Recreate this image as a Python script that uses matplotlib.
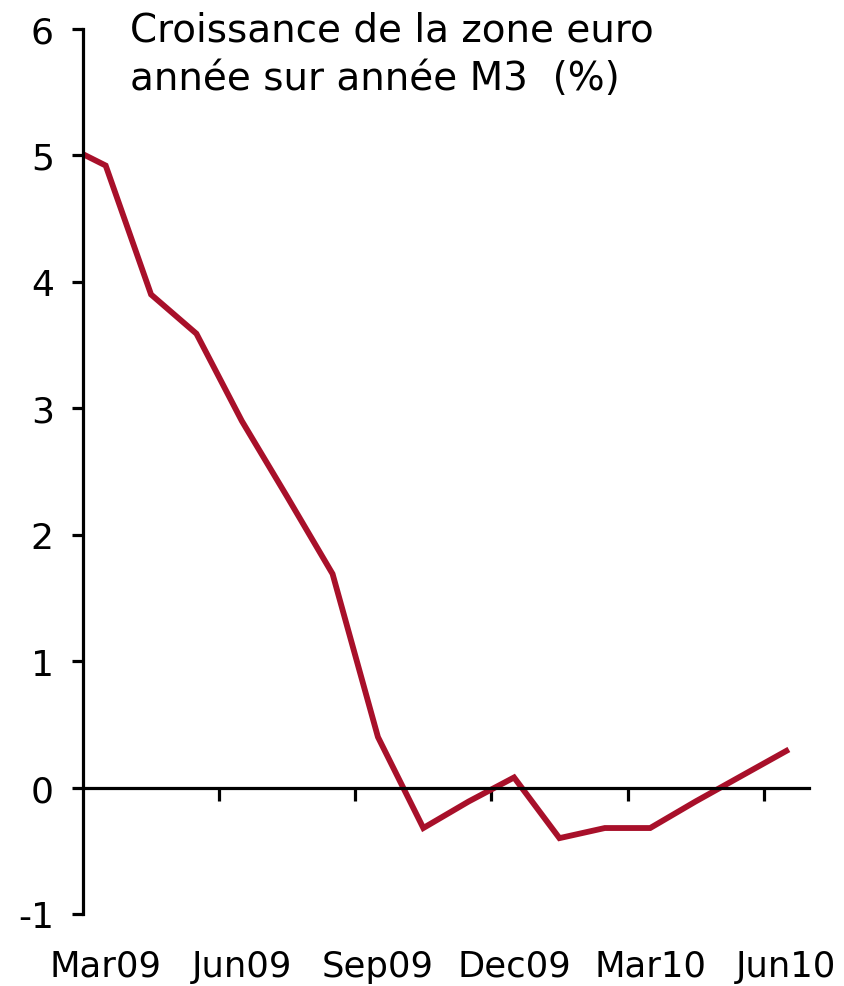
import matplotlib
matplotlib.use("Agg")
import matplotlib.pyplot as plt

plt.rcParams["axes.unicode_minus"] = False

# euro zone M3, year on year growth (%), monthly
months = ["Feb09", "Mar09", "Apr09", "May09", "Jun09", "Jul09", "Aug09", "Sep09",
          "Oct09", "Nov09", "Dec09", "Jan10", "Feb10", "Mar10", "Apr10", "May10", "Jun10"]
m3_growth = [5.10, 4.92, 3.90, 3.59, 2.90, 2.30, 1.69, 0.40,
             -0.32, -0.11, 0.08, -0.40, -0.32, -0.32, -0.11, 0.09, 0.29]
tick_labels = ["Mar09", "Jun09", "Sep09", "Dec09", "Mar10", "Jun10"]
title = "Croissance de la zone euro\nannée sur année M3  (%)"

x = [i - 1 for i in range(len(months))]   # Mar09 -> 0

fig = plt.figure(figsize=(8.44, 9.87), dpi=100)
ax = fig.add_axes([83 / 844, (987 - 915) / 987, (809 - 83) / 844, (915 - 30) / 987])

ax.plot(x, m3_growth, color="#A8102A", lw=4.2, solid_joinstyle="miter")
ax.set_xlim(-0.5, 15.5)
ax.set_ylim(-1, 6)

for s in ["top", "right"]:
    ax.spines[s].set_visible(False)
ax.spines["bottom"].set_position(("data", 0))
ax.spines["left"].set_linewidth(2.3)
ax.spines["bottom"].set_linewidth(2.3)

ax.set_yticks(range(-1, 7))
ax.tick_params(axis="y", length=8, width=2.3, labelsize=26, pad=13)

# ticks between quarters on the zero line, no labels there
ax.set_xticks([2.5, 5.5, 8.5, 11.5, 14.5])
ax.set_xticklabels([])
ax.tick_params(axis="x", direction="out", length=9, width=2.3)

sec = ax.secondary_xaxis("bottom")
sec.set_xticks([0, 3, 6, 9, 12, 15])
sec.set_xticklabels(tick_labels)
sec.tick_params(length=0, labelsize=25.5, pad=25)
sec.spines["bottom"].set_visible(False)

fig.text(130 / 844, 1 - 11 / 987, title, fontsize=28, va="top", ha="left", linespacing=1.38)

fig.savefig("out.png", dpi=100)
